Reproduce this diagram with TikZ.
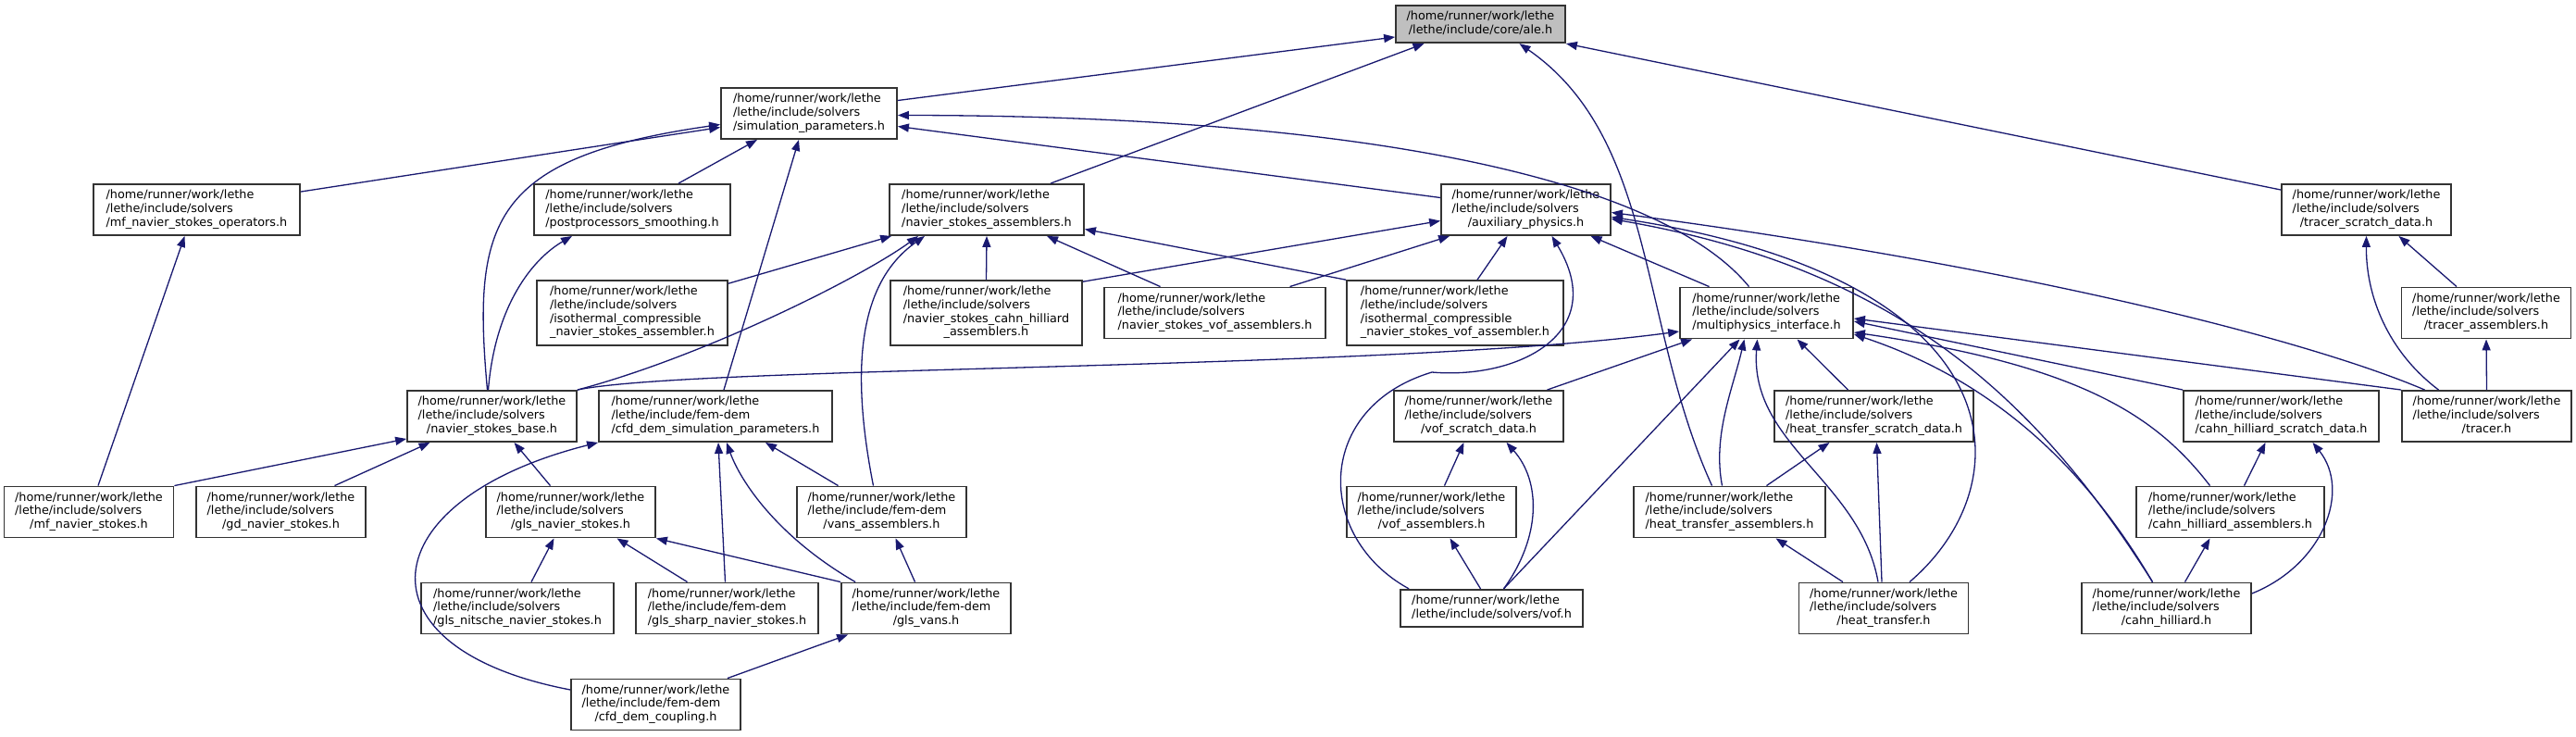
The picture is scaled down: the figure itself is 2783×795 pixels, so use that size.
\documentclass[tikz,border=0pt]{standalone}
\usepackage{fontspec}
\setmainfont{DejaVu Sans}
\usetikzlibrary{arrows.meta}
\definecolor{EdgeClr}{rgb}{0.098,0.098,0.439}
\definecolor{RootClr}{rgb}{0.75,0.75,0.75}
\definecolor{BoxClr}{rgb}{0.2,0.2,0.2}

\newcommand{\flab}[2]{\begin{tabular}{@{}l@{}}#1\\\multicolumn{1}{@{}c@{}}{#2}\end{tabular}}
\newcommand{\SolDir}{/home/runner/work/lethe\\/lethe/include/solvers}
\newcommand{\FemDir}{/home/runner/work/lethe\\/lethe/include/fem-dem}

\tikzset{
  file/.style={draw=BoxClr,line width=1.8pt,fill=white,inner xsep=3pt,inner ysep=5.5pt,
    minimum width=183pt,font=\fontsize{12.8}{14.7}\selectfont},
  root/.style={file,fill=RootClr},
  dep/.style={draw=EdgeClr,line width=1.3pt,-{Triangle[length=12pt,width=9pt]}}
}

\begin{document}
\begin{tikzpicture}[x=1pt,y=-1pt]
\fill[white] (0,0) rectangle (2783,795);
\useasboundingbox (0,0) rectangle (2783,795);

% files, one row at a time
\node[root] (ale) at (1599.5,26) {\flab{/home/runner/work/lethe}{/lethe/include/core/ale.h}};

\node[file,minimum width=190pt] (simp) at (874,122.5) {\flab{\SolDir}{/simulation\_parameters.h}};

\node[file,minimum width=223pt] (mfnsop) at (212.5,226.5) {\flab{\SolDir}{/mf\_navier\_stokes\_operators.h}};
\node[file,minimum width=212pt] (ppsmooth) at (683,226.5) {\flab{\SolDir}{/postprocessors\_smoothing.h}};
\node[file,minimum width=210pt] (nsasm) at (1066,226.5) {\flab{\SolDir}{/navier\_stokes\_assemblers.h}};
\node[file] (auxphys) at (1648.5,226.5) {\flab{\SolDir}{/auxiliary\_physics.h}};
\node[file] (trsd) at (2556.5,226.5) {\flab{\SolDir}{/tracer\_scratch\_data.h}};

\node[file,minimum width=206pt] (icnsasm) at (683,338) {\flab{\SolDir\\/isothermal\_compressible}{\_navier\_stokes\_assembler.h}};
\node[file,minimum width=207pt] (nschasm) at (1065.5,338) {\flab{\SolDir\\/navier\_stokes\_cahn\_hilliard}{\_assemblers.h}};
\node[file,minimum width=239pt] (nsvofasm) at (1312.5,338) {\flab{\SolDir}{/navier\_stokes\_vof\_assemblers.h}};
\node[file,minimum width=234pt] (icnsvofasm) at (1572,338) {\flab{\SolDir\\/isothermal\_compressible}{\_navier\_stokes\_vof\_assembler.h}};
\node[file,minimum width=187pt] (mpi) at (1908.5,338) {\flab{\SolDir}{/multiphysics\_interface.h}};
\node[file] (trasm) at (2686,338) {\flab{\SolDir}{/tracer\_assemblers.h}};

\node[file] (nsbase) at (531.5,449.5) {\flab{\SolDir}{/navier\_stokes\_base.h}};
\node[file,minimum width=252pt] (cfdsimp) at (773,449.5) {\flab{\FemDir}{/cfd\_dem\_simulation\_parameters.h}};
\node[file] (vofsd) at (1597.5,449.5) {\flab{\SolDir}{/vof\_scratch\_data.h}};
\node[file,minimum width=215pt] (htsd) at (2024.5,449.5) {\flab{\SolDir}{/heat\_transfer\_scratch\_data.h}};
\node[file,minimum width=211pt] (chsd) at (2464.5,449.5) {\flab{\SolDir}{/cahn\_hilliard\_scratch\_data.h}};
\node[file] (tracer) at (2686.5,449.5) {\flab{\SolDir}{/tracer.h}};

\node[file] (mfns) at (96,553) {\flab{\SolDir}{/mf\_navier\_stokes.h}};
\node[file] (gdns) at (303.5,553) {\flab{\SolDir}{/gd\_navier\_stokes.h}};
\node[file] (glsns) at (616.5,553) {\flab{\SolDir}{/gls\_navier\_stokes.h}};
\node[file] (vansasm) at (952.5,553) {\flab{\FemDir}{/vans\_assemblers.h}};
\node[file] (vofasm) at (1546.5,553) {\flab{\SolDir}{/vof\_assemblers.h}};
\node[file,minimum width=207pt] (htasm) at (1868.5,553) {\flab{\SolDir}{/heat\_transfer\_assemblers.h}};
\node[file,minimum width=203pt] (chasm) at (2409.5,553) {\flab{\SolDir}{/cahn\_hilliard\_assemblers.h}};

\node[file,minimum width=208pt] (glsnitsche) at (559,657) {\flab{\SolDir}{/gls\_nitsche\_navier\_stokes.h}};
\node[file,minimum width=197pt] (glssharp) at (785.5,657) {\flab{\FemDir}{/gls\_sharp\_navier\_stokes.h}};
\node[file] (glsvans) at (1000.5,657) {\flab{\FemDir}{/gls\_vans.h}};
\node[file,minimum width=197pt] (vof) at (1611.5,657) {\flab{/home/runner/work/lethe}{/lethe/include/solvers/vof.h}};
\node[file] (ht) at (2035,657) {\flab{\SolDir}{/heat\_transfer.h}};
\node[file] (ch) at (2340.5,657) {\flab{\SolDir}{/cahn\_hilliard.h}};

\node[file] (cfdcoupling) at (708.5,761) {\flab{\FemDir}{/cfd\_dem\_coupling.h}};

% includes of ale.h
\draw[dep] ([yshift=14pt]simp.east) -- ([yshift=-14pt]ale.west);
\draw[dep] ([xshift=69pt]nsasm.north) -- ([xshift=-61pt]ale.south);
\draw[dep] ([xshift=-19pt]htasm.north) .. controls (1770,350) and (1790,150) .. ([xshift=42pt]ale.south);
\draw[dep] ([yshift=-7pt]trsd.north west) -- (ale.south east);

% simulation parameters
\draw[dep] ([yshift=-9pt]mfnsop.north east) -- ([yshift=-15pt]simp.west);
\draw[dep] ([xshift=-5pt]nsbase.north) .. controls (510,240) and (530,170) .. ([yshift=-12pt]simp.west);
\draw[dep] ([xshift=50pt]ppsmooth.north) -- ([xshift=-56pt]simp.south);
\draw[dep] ([xshift=9pt]cfdsimp.north) -- ([xshift=-11pt]simp.south);
\draw[dep] ([yshift=13pt]auxphys.west) -- ([yshift=-14pt]simp.east);
\draw[dep] ([xshift=-19pt]mpi.north) .. controls (1800,200) and (1500,125) .. ([yshift=-2pt]simp.east);

\draw[dep] ([xshift=10pt]mfns.north) -- ([xshift=-13pt]mfnsop.south);
\draw[dep] ([xshift=-4pt]nsbase.north) .. controls (535,330) and (575,280) .. ([xshift=-65pt]ppsmooth.south);

% navier stokes assemblers
\draw[dep] ([yshift=-4pt]icnsasm.north east) -- ([xshift=3pt]nsasm.south west);
\draw[dep] (nsbase.north east) .. controls (760,385) and (930,300) .. ([xshift=-74pt]nsasm.south);
\draw[dep] ([xshift=-9pt]vansasm.north) .. controls (915,380) and (935,300) .. ([xshift=-67pt]nsasm.south);
\draw[dep] (nschasm.north) -- (nsasm.south);
\draw[dep] ([xshift=-59pt]nsvofasm.north) -- ([xshift=65pt]nsasm.south);
\draw[dep] (icnsvofasm.north west) -- ([yshift=-21pt]nsasm.east);

% auxiliary physics
\draw[dep] ([yshift=-2pt]nschasm.north east) -- ([yshift=-12pt]auxphys.west);
\draw[dep] ([xshift=81pt]nsvofasm.north) -- ([xshift=10pt]auxphys.south west);
\draw[dep] ([xshift=24pt]icnsvofasm.north) -- ([xshift=-20pt]auxphys.south);
\draw[dep] ([xshift=10pt]vof.north west) .. controls (1420,580) and (1420,440) .. (1547,402)
  .. controls (1640,410) and (1740,360) .. ([xshift=28pt]auxphys.south);
\draw[dep] ([xshift=-62pt]mpi.north) -- ([xshift=70pt]auxphys.south);
\draw[dep] ([xshift=-67pt]tracer.north) .. controls (2500,370) and (2200,290) .. ([yshift=-3pt]auxphys.east);
\draw[dep] ([xshift=28pt]ht.north) .. controls (2190,520) and (2180,300) .. ([yshift=-8pt]auxphys.east);
\draw[dep] ([xshift=-15pt]ch.north) .. controls (2200,430) and (2050,290) .. ([yshift=-10pt]auxphys.east);

% tracer
\draw[dep] ([xshift=-52pt]tracer.north) .. controls (2580,380) and (2556,320) .. (trsd.south);
\draw[dep] ([xshift=-32pt]trasm.north) -- ([xshift=35pt]trsd.south);
\draw[dep] (tracer.north) -- (trasm.south);

% multiphysics interface
\draw[dep] (nsbase.north east) .. controls (750,395) and (1500,400) .. ([yshift=-20pt]mpi.west);
\draw[dep] ([xshift=74pt]vofsd.north) -- ([xshift=14pt]mpi.south west);
\draw[dep] ([xshift=13pt]vof.north) -- ([xshift=-29pt]mpi.south);
\draw[dep] ([xshift=-8pt]htasm.north) .. controls (1850,470) and (1872,420) .. ([xshift=-24pt]mpi.south);
\draw[dep] ([xshift=-6pt]ht.north) .. controls (2010,520) and (1890,480) .. ([xshift=-10pt]mpi.south);
\draw[dep] ([xshift=-28pt]htsd.north) -- ([xshift=33pt]mpi.south);
\draw[dep] (tracer.north west) -- ([yshift=-6pt]mpi.east);
\draw[dep] (chsd.north west) -- ([yshift=-9pt]mpi.east);
\draw[dep] ([xshift=-22pt]chasm.north) .. controls (2330,450) and (2250,395) .. ([yshift=-21pt]mpi.east);
\draw[dep] ([xshift=-15pt]ch.north) .. controls (2250,500) and (2150,410) .. ([yshift=-23pt]mpi.east);

% cahn hilliard, heat transfer, vof
\draw[dep] ([yshift=16pt]ch.east) .. controls (2510,610) and (2540,530) .. ([xshift=34pt]chsd.south);
\draw[dep] ([xshift=15pt]chasm.north) -- ([xshift=-17pt]chsd.south);
\draw[dep] ([xshift=20pt]ch.north) -- ([xshift=-22pt]chasm.south);
\draw[dep] ([xshift=40pt]htasm.north) -- ([xshift=-48pt]htsd.south);
\draw[dep] ([xshift=-2pt]ht.north) -- ([xshift=3pt]htsd.south);
\draw[dep] ([xshift=-44pt]ht.north) -- ([xshift=50pt]htasm.south);
\draw[dep] ([xshift=14pt]vofasm.north) -- ([xshift=-16pt]vofsd.south);
\draw[dep] ([xshift=13pt]vof.north) .. controls (1665,580) and (1665,520) .. ([xshift=30pt]vofsd.south);
\draw[dep] ([xshift=-12pt]vof.north) -- ([xshift=20pt]vofasm.south);

% navier stokes base and fem-dem
\draw[dep] (mfns.north east) -- ([yshift=4pt]nsbase.south west);
\draw[dep] ([xshift=58pt]gdns.north) -- ([xshift=-67pt]nsbase.south);
\draw[dep] ([xshift=-22pt]glsns.north) -- ([xshift=24pt]nsbase.south);
\draw[dep] ([yshift=16pt]cfdcoupling.west) .. controls (380,700) and (400,540) .. (cfdsimp.south west);
\draw[dep] ([xshift=-2pt]glssharp.north) -- ([xshift=3pt]cfdsimp.south);
\draw[dep] ([xshift=16pt]glsvans.north west) .. controls (840,580) and (800,520) .. ([xshift=12pt]cfdsimp.south);
\draw[dep] ([xshift=-47pt]vansasm.north) -- ([xshift=54pt]cfdsimp.south);
\draw[dep] ([xshift=15pt]glsnitsche.north) -- ([xshift=-18pt]glsns.south);
\draw[dep] ([xshift=-43pt]glssharp.north) -- ([xshift=50pt]glsns.south);
\draw[dep] (glsvans.north west) -- (glsns.south east);
\draw[dep] ([xshift=-12pt]glsvans.north) -- ([xshift=15pt]vansasm.south);
\draw[dep] ([xshift=-15pt]cfdcoupling.north east) -- ([xshift=8pt]glsvans.south west);

\end{tikzpicture}
\end{document}
